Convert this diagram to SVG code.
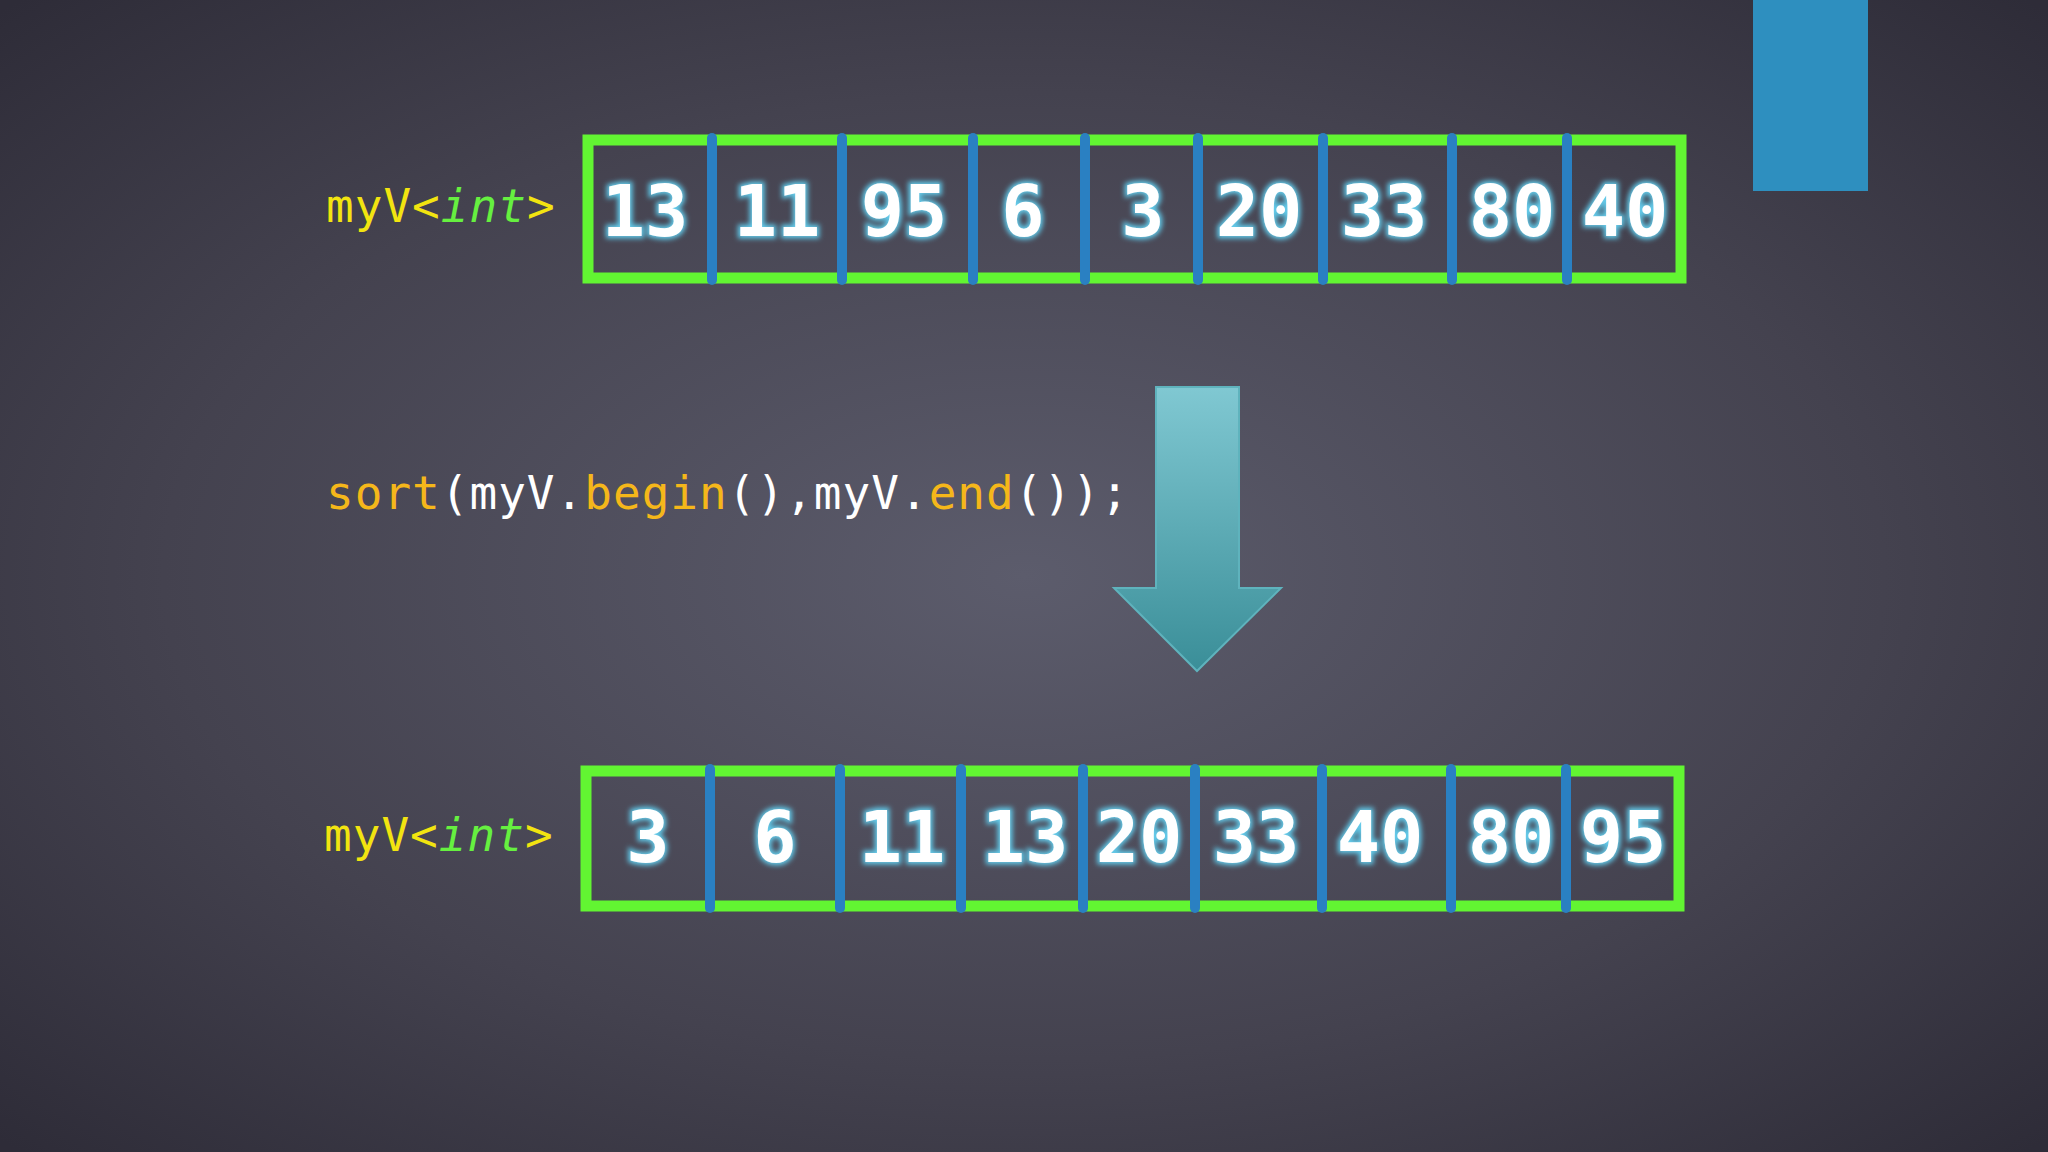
<svg xmlns="http://www.w3.org/2000/svg" width="2048" height="1152" viewBox="0 0 2048 1152">
<defs>
<radialGradient id="bg" cx="0.5" cy="0.5" r="0.7">
<stop offset="0" stop-color="#5c5c6c"/><stop offset="0.6" stop-color="#44424f"/><stop offset="1" stop-color="#2e2c38"/>
</radialGradient>
<linearGradient id="ar" x1="0" y1="0" x2="0" y2="1">
<stop offset="0" stop-color="#80c8d2"/><stop offset="1" stop-color="#3a8e98"/>
</linearGradient>
<filter id="glow" x="-20%" y="-20%" width="140%" height="140%">
<feGaussianBlur stdDeviation="2.5"/>
</filter>
</defs>
<style>
.box{fill:none;stroke:#62f532;stroke-width:11}
.div{stroke:#2a80c2;stroke-width:10;stroke-linecap:round}
.num{font-family:"DejaVu Sans Mono","Liberation Mono",monospace;font-size:72px;font-weight:bold;text-anchor:middle}
.numg{fill:#7fd8f0;stroke:#5fc6e6;stroke-width:5;filter:url(#glow)}
.numf{fill:#ffffff}
.code{font-family:"DejaVu Sans Mono","Liberation Mono",monospace;font-size:46px;letter-spacing:1px}
.y{fill:#f2e410}.g{fill:#66f040}.o{fill:#f5b71a}.w{fill:#ffffff}
</style>
<rect width="2048" height="1152" fill="url(#bg)"/>
<rect id="corner" x="1753" y="0" width="115" height="191" fill="#2e8fbf"/>
<g id="label-top" class="code"><text x="326" y="222"><tspan class="y">myV&lt;</tspan><tspan class="g" font-style="italic">int</tspan><tspan class="y">&gt;</tspan></text></g>
<g id="label-bottom" class="code"><text x="324" y="851"><tspan class="y">myV&lt;</tspan><tspan class="g" font-style="italic">int</tspan><tspan class="y">&gt;</tspan></text></g>
<g id="sort-call" class="code"><text x="326" y="509"><tspan class="o">sort</tspan><tspan class="w">(myV.</tspan><tspan class="o">begin</tspan><tspan class="w">(),myV.</tspan><tspan class="o">end</tspan><tspan class="w">());</tspan></text></g>
<g id="top-vector">
<rect class="box" x="588" y="140" width="1093" height="138"/>
<g class="div"><line x1="712" y1="138" x2="712" y2="280"/><line x1="842" y1="138" x2="842" y2="280"/><line x1="973" y1="138" x2="973" y2="280"/><line x1="1085" y1="138" x2="1085" y2="280"/><line x1="1198" y1="138" x2="1198" y2="280"/><line x1="1323" y1="138" x2="1323" y2="280"/><line x1="1452" y1="138" x2="1452" y2="280"/><line x1="1567" y1="138" x2="1567" y2="280"/></g>
<g class="num numg"><text x="645" y="236">13</text><text x="777" y="236">11</text><text x="904" y="236">95</text><text x="1023" y="236">6</text><text x="1143" y="236">3</text><text x="1259" y="236">20</text><text x="1384" y="236">33</text><text x="1512" y="236">80</text><text x="1625" y="236">40</text></g>
<g class="num numf"><text x="645" y="236">13</text><text x="777" y="236">11</text><text x="904" y="236">95</text><text x="1023" y="236">6</text><text x="1143" y="236">3</text><text x="1259" y="236">20</text><text x="1384" y="236">33</text><text x="1512" y="236">80</text><text x="1625" y="236">40</text></g>
</g>
<g id="connectors"><polygon points="1156,387 1239,387 1239,588 1281,588 1197,671 1114,588 1156,588" fill="url(#ar)" stroke="#5fb3bd" stroke-width="2"/></g>
<g id="bottom-vector">
<rect class="box" x="586" y="771" width="1093" height="135"/>
<g class="div"><line x1="710" y1="769" x2="710" y2="908"/><line x1="840" y1="769" x2="840" y2="908"/><line x1="961" y1="769" x2="961" y2="908"/><line x1="1083" y1="769" x2="1083" y2="908"/><line x1="1195" y1="769" x2="1195" y2="908"/><line x1="1322" y1="769" x2="1322" y2="908"/><line x1="1451" y1="769" x2="1451" y2="908"/><line x1="1566" y1="769" x2="1566" y2="908"/></g>
<g class="num numg"><text x="648" y="862">3</text><text x="775" y="862">6</text><text x="902" y="862">11</text><text x="1025" y="862">13</text><text x="1139" y="862">20</text><text x="1256" y="862">33</text><text x="1380" y="862">40</text><text x="1511" y="862">80</text><text x="1623" y="862">95</text></g>
<g class="num numf"><text x="648" y="862">3</text><text x="775" y="862">6</text><text x="902" y="862">11</text><text x="1025" y="862">13</text><text x="1139" y="862">20</text><text x="1256" y="862">33</text><text x="1380" y="862">40</text><text x="1511" y="862">80</text><text x="1623" y="862">95</text></g>
</g>
</svg>
